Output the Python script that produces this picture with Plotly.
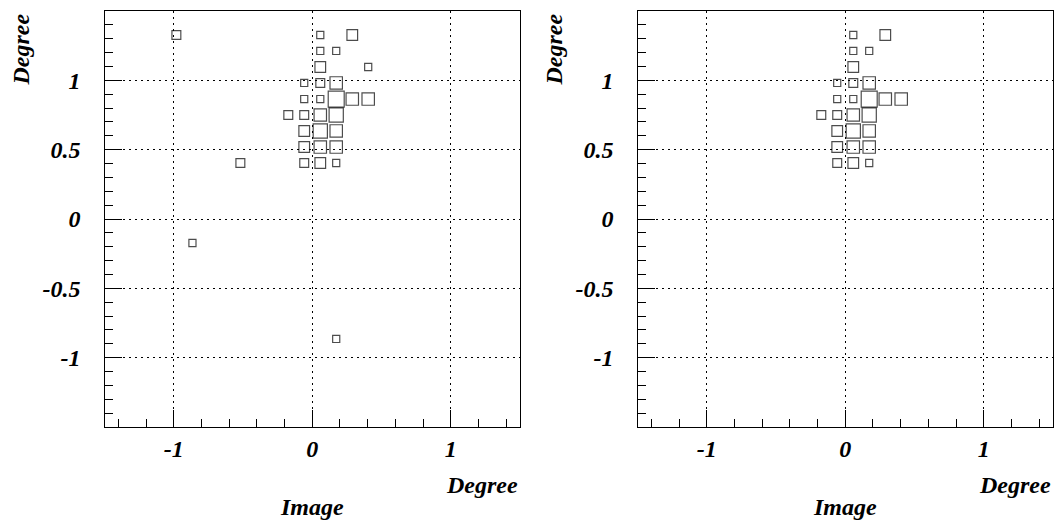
import plotly.graph_objects as go

# Cell contents of the 2-D histogram (bin centres in degrees, counts)
all_x = [0.058, 0.289, -0.981, 0.058, 0.173, 0.058, 0.404, -0.058, 0.058, 0.173,
         -0.058, 0.058, 0.173, 0.289, 0.404, -0.173, -0.058, 0.058, 0.173,
         -0.058, 0.058, 0.173, -0.058, 0.058, 0.173, -0.519, -0.058, 0.058, 0.173,
         -0.865, 0.173]
all_y = [1.327, 1.327, 1.327, 1.212, 1.212, 1.096, 1.096, 0.981, 0.981, 0.981,
         0.865, 0.865, 0.865, 0.865, 0.865, 0.750, 0.750, 0.750, 0.750,
         0.635, 0.635, 0.635, 0.519, 0.519, 0.519, 0.404, 0.404, 0.404, 0.404,
         -0.173, -0.865]
all_n = [4, 6, 5, 4, 4, 6, 4, 4, 5, 7,
         4, 4, 9, 7, 7, 5, 5, 7, 8,
         6, 8, 7, 6, 7, 7, 5, 5, 6, 4,
         4, 4]

sel_x = [0.058, 0.289, 0.058, 0.173, 0.058, -0.058, 0.058, 0.173,
         -0.058, 0.058, 0.173, 0.289, 0.404, -0.173, -0.058, 0.058, 0.173,
         -0.058, 0.058, 0.173, -0.058, 0.058, 0.173, -0.058, 0.058, 0.173]
sel_y = [1.327, 1.327, 1.212, 1.212, 1.096, 0.981, 0.981, 0.981,
         0.865, 0.865, 0.865, 0.865, 0.865, 0.750, 0.750, 0.750, 0.750,
         0.635, 0.635, 0.635, 0.519, 0.519, 0.519, 0.404, 0.404, 0.404]
sel_n = [4, 6, 4, 4, 6, 4, 5, 7,
         4, 4, 9, 7, 7, 5, 5, 7, 8,
         6, 8, 7, 6, 7, 7, 5, 6, 4]

axis_range = [-1.5, 1.5]
bin_width = 3 / 26
x_tickvals = [-1, 0, 1]
x_ticktext = ["-1", "0", "1"]
y_tickvals = [-1, -0.5, 0, 0.5, 1]
y_ticktext = ["-1", "-0.5", "0", "0.5", "1"]

W, H = 1056, 522
left_dom = [104.5 / W, 520 / W]
right_dom = [637.5 / W, 1053 / W]
y_dom = [1 - 427 / H, 1 - 11 / H]

cell_px = (left_dom[1] - left_dom[0]) * W / (axis_range[1] - axis_range[0]) * bin_width
n_max = max(all_n)


def box_sizes(counts):
    return [cell_px * c / n_max for c in counts]


fig = go.Figure()
fig.add_trace(go.Scatter(
    x=all_x, y=all_y, mode="markers", xaxis="x", yaxis="y",
    marker=dict(symbol="square-open", size=box_sizes(all_n), color="black",
                line=dict(width=1.2, color="black")),
    showlegend=False, hoverinfo="skip"))
fig.add_trace(go.Scatter(
    x=sel_x, y=sel_y, mode="markers", xaxis="x2", yaxis="y2",
    marker=dict(symbol="square-open", size=box_sizes(sel_n), color="black",
                line=dict(width=1.2, color="black")),
    showlegend=False, hoverinfo="skip"))

tick_font = dict(family="Liberation Serif", size=24, color="black",
                 weight="bold", style="italic")
title_font = dict(family="Liberation Serif", size=24, color="black",
                  weight="bold", style="italic")


def xaxis(dom, anchor):
    return dict(domain=dom, anchor=anchor, range=axis_range,
                tickmode="array", tickvals=x_tickvals, ticktext=x_ticktext,
                ticks="inside", ticklen=17, tickwidth=1, tickcolor="black",
                minor=dict(dtick=0.2, tick0=0, ticks="inside", ticklen=8,
                           tickcolor="black", tickwidth=1, showgrid=False),
                showgrid=True, gridcolor="black", griddash="2px,4px", gridwidth=1,
                zeroline=False, showline=True, mirror=True, linecolor="black",
                linewidth=1.3, tickfont=tick_font, ticklabelstandoff=0)


def yaxis(dom, anchor):
    return dict(domain=dom, anchor=anchor, range=axis_range,
                tickmode="array", tickvals=y_tickvals, ticktext=y_ticktext,
                ticks="inside", ticklen=17, tickwidth=1, tickcolor="black",
                minor=dict(dtick=0.1, tick0=0, ticks="inside", ticklen=8,
                           tickcolor="black", tickwidth=1, showgrid=False),
                showgrid=True, gridcolor="black", griddash="2px,4px", gridwidth=1,
                zeroline=False, showline=True, mirror=True, linecolor="black",
                linewidth=1.3, tickfont=tick_font, ticklabelstandoff=18)


annotations = []
for dom in (left_dom, right_dom):
    annotations.append(dict(text="Degree", xref="paper", yref="paper",
                            x=dom[1], y=1 - 485 / H, xanchor="right", yanchor="middle",
                            showarrow=False, font=title_font))
    annotations.append(dict(text="Image", xref="paper", yref="paper",
                            x=(dom[0] + dom[1]) / 2, y=1 - 507 / H,
                            xanchor="center", yanchor="middle",
                            showarrow=False, font=title_font))
    annotations.append(dict(text="Degree", xref="paper", yref="paper",
                            x=(dom[0] * W - 84) / W, y=1 - 50 / H, textangle=-90,
                            xanchor="center", yanchor="middle",
                            showarrow=False, font=title_font))

fig.update_layout(
    width=W, height=H, margin=dict(l=0, r=0, t=0, b=0),
    paper_bgcolor="white", plot_bgcolor="white",
    xaxis=xaxis(left_dom, "y"), yaxis=yaxis(y_dom, "x"),
    xaxis2=xaxis(right_dom, "y2"), yaxis2=yaxis(y_dom, "x2"),
    annotations=annotations,
)

fig.write_html("out.html")
